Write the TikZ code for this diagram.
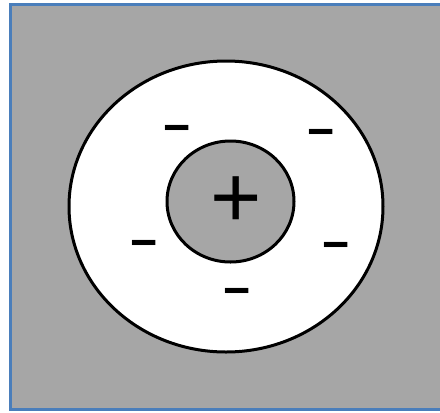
\documentclass[tikz,border=0pt]{standalone}
\usepackage{fontspec}
\setmainfont{Liberation Sans}
\definecolor{cellgray}{HTML}{A6A6A6}
\definecolor{frameblue}{HTML}{4A7EBB}

\begin{document}
\begin{tikzpicture}[x=0.75pt, y=-0.75pt, ring/.style={draw=black, line width=2.25pt}, plussign/.style={font=\fontsize{66}{66}\selectfont, inner sep=0pt, yshift=-2.5pt}, minussign/.style={font=\bfseries\fontsize{35}{35}\selectfont, inner sep=0pt, yshift=-4.5pt}]

\useasboundingbox (0,0) rectangle (440,412);
\clip (0,0) rectangle (440,412);
\draw[fill=cellgray, draw=frameblue, line width=2.25pt] (10.5,4.5) rectangle (446,409.5);

% atom: shell and nucleus
\draw[ring, fill=white] (226,206.5) ellipse [x radius=157, y radius=145.5];
\draw[ring, fill=cellgray] (230.5,201.5) ellipse [x radius=63.5, y radius=60.5];

\node[plussign] (nucleus) at (236,199) {+};
\node[minussign] (e1) at (177,128) {−};
\node[minussign] (e2) at (321,132) {−};
\node[minussign] (e3) at (144,243) {−};
\node[minussign] (e4) at (336,245) {−};
\node[minussign] (e5) at (237,291) {−};

\end{tikzpicture}
\end{document}
